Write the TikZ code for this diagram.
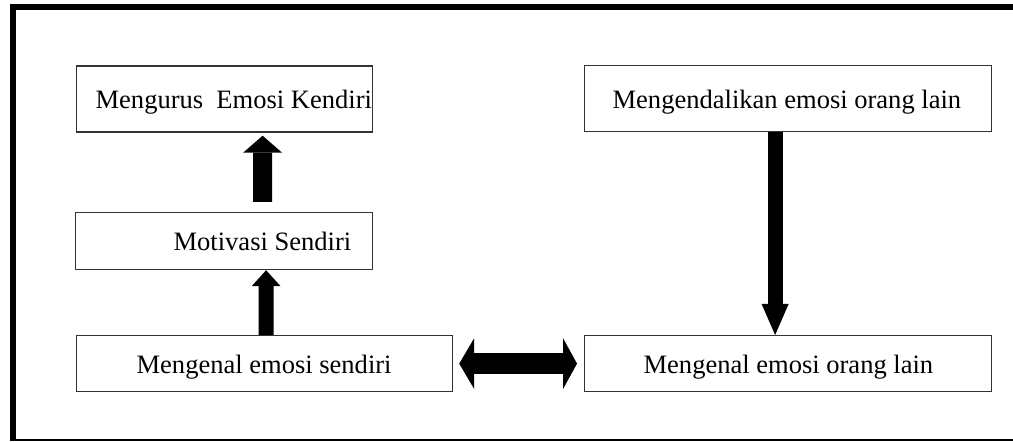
\documentclass[tikz,border=0pt]{standalone}
\usepackage{fontspec}
\setmainfont{Liberation Serif}
\usetikzlibrary{arrows.meta,positioning}
\tikzstyle{box} = [rectangle, draw=black!80, line width=0.7pt, anchor=north west, align=flush left, inner xsep=0pt, inner ysep=0pt, text height=0.38cm, text depth=0pt, font=\fontsize{15.1}{18}\selectfont]
\tikzstyle{connector} = [line width=0.3cm]
\tikzstyle{frame} = [line width=0.12cm]

\begin{document}
\begin{tikzpicture}
        \useasboundingbox (0,0) rectangle (20.26,-8.84);
        % outer frame
        \draw [frame] (0.26,-8.80) -- (0.26,-0.15) -- (20.26,-0.15);
        \draw [line width=0.04cm] (0.2,-8.80) -- (20.26,-8.80);
        \node (kendiri) [box, text width=5.92cm, minimum height=1.32cm] at (1.52,-1.31) {\hspace*{0.38cm}Mengurus\ \ Emosi Kendiri};
        \node (kendali) [box, text width=8.14cm, minimum height=1.32cm] at (11.68,-1.30) {\hspace*{0.56cm}Mengendalikan emosi orang lain};
        \node (motivasi) [box, text width=5.94cm, minimum height=1.14cm] at (1.50,-4.24) {\hspace*{1.96cm}Motivasi Sendiri};
        \node (kenal-sendiri) [box, text width=7.52cm, minimum height=1.12cm] at (1.52,-6.70) {\hspace*{1.2cm}Mengenal emosi sendiri};
        \node (kenal-lain) [box, text width=8.14cm, minimum height=1.12cm] at (11.68,-6.70) {\hspace*{1.18cm}Mengenal emosi orang lain};
        \draw [connector, line width=0.38cm, -{Triangle[width=0.78cm,length=0.34cm,line width=0pt]}, shorten <=0.2cm, shorten >=0.06cm] ([xshift=0.77cm]motivasi.north) -- ([xshift=0.76cm]kendiri.south);
        \draw [connector, -{Triangle[width=0.58cm,length=0.32cm,line width=0pt]}] ([xshift=0.03cm]kenal-sendiri.north) -- ([xshift=0.84cm]motivasi.south);
        \draw [connector, -{Triangle[width=0.54cm,length=0.62cm,line width=0pt]}] ([xshift=-0.26cm]kendali.south) -- ([xshift=-0.26cm]kenal-lain.north);
        \draw [connector, line width=0.42cm, {Triangle[width=1.02cm,length=0.3cm,line width=0pt]}-{Triangle[width=1.02cm,length=0.28cm,line width=0pt]}, shorten <=0.12cm, shorten >=0.14cm] (kenal-sendiri) -- (kenal-lain);
    \end{tikzpicture}
\end{document}
